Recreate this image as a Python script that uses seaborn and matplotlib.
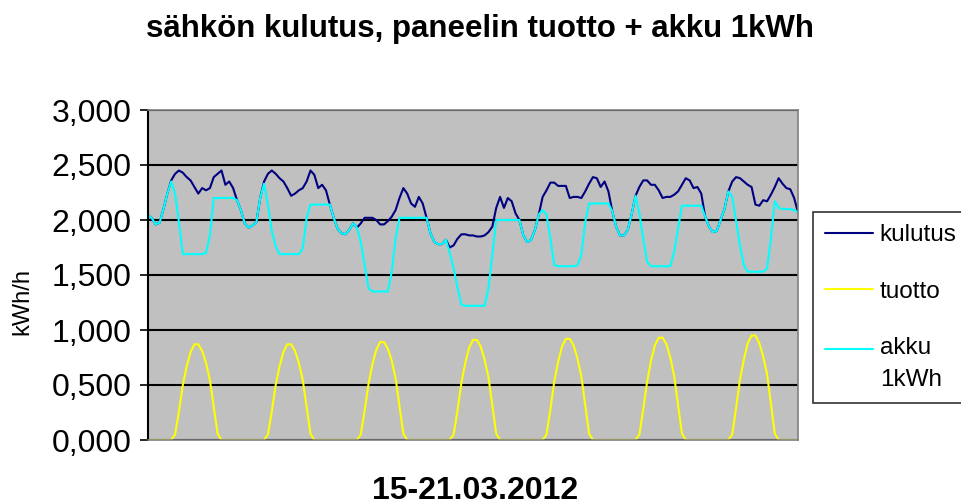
import numpy as np
import pandas as pd
import matplotlib
matplotlib.use("Agg")
import matplotlib.pyplot as plt
import seaborn as sns
from matplotlib.ticker import FuncFormatter, MultipleLocator
from matplotlib.lines import Line2D

# hourly values 15-21.03.2012 (hours 0..168)
kulutus = [
    2.045, 2.015, 1.96, 1.975, 2.10, 2.24, 2.36, 2.42, 2.45, 2.43, 2.39, 2.36,
    2.30, 2.24, 2.29, 2.27, 2.29, 2.39, 2.42, 2.45, 2.32, 2.35, 2.29, 2.18,
    2.09, 1.97, 1.93, 1.95, 1.98, 2.20, 2.35, 2.42, 2.45, 2.42, 2.38, 2.35,
    2.29, 2.22, 2.24, 2.27, 2.29, 2.35, 2.45, 2.41, 2.29, 2.32, 2.27, 2.14,
    2.02, 1.92, 1.88, 1.87, 1.91, 1.97, 1.93, 1.97, 2.02, 2.02, 2.02, 2.00,
    1.96, 1.96, 1.99, 2.03, 2.09, 2.20, 2.29, 2.24, 2.15, 2.12, 2.21, 2.15,
    2.02, 1.88, 1.80, 1.78, 1.78, 1.82, 1.75, 1.77, 1.83, 1.87, 1.87, 1.86,
    1.86, 1.85, 1.85, 1.86, 1.89, 1.94, 2.11, 2.21, 2.11, 2.20, 2.17, 2.06,
    2.00, 1.86, 1.80, 1.82, 1.91, 2.05, 2.21, 2.27, 2.34, 2.34, 2.31, 2.31,
    2.31, 2.20, 2.21, 2.21, 2.20, 2.26, 2.33, 2.39, 2.38, 2.30, 2.35, 2.26,
    2.08, 1.94, 1.86, 1.86, 1.91, 2.05, 2.22, 2.30, 2.36, 2.36, 2.32, 2.32,
    2.27, 2.20, 2.21, 2.21, 2.23, 2.26, 2.32, 2.38, 2.36, 2.29, 2.30, 2.24,
    2.03, 1.94, 1.89, 1.90, 2.00, 2.10, 2.26, 2.35, 2.39, 2.38, 2.35, 2.32,
    2.30, 2.14, 2.13, 2.18, 2.17, 2.23, 2.30, 2.38, 2.33, 2.29, 2.28, 2.20,
    2.07,
]

akku = [
    2.045, 2.015, 1.96, 1.975, 2.10, 2.24, 2.35, 2.24, 1.98, 1.69, 1.69, 1.69,
    1.69, 1.69, 1.69, 1.70, 1.86, 2.20, 2.20, 2.20, 2.20, 2.20, 2.20, 2.18,
    2.09, 1.97, 1.93, 1.95, 1.98, 2.20, 2.33, 2.14, 1.90, 1.76, 1.69, 1.69,
    1.69, 1.69, 1.69, 1.69, 1.74, 2.02, 2.14, 2.14, 2.14, 2.14, 2.14, 2.14,
    2.02, 1.92, 1.88, 1.87, 1.91, 1.97, 1.93, 1.80, 1.59, 1.38, 1.35, 1.35,
    1.35, 1.35, 1.35, 1.53, 1.83, 2.02, 2.02, 2.02, 2.02, 2.02, 2.02, 2.02,
    2.02, 1.88, 1.80, 1.78, 1.78, 1.82, 1.70, 1.56, 1.38, 1.23, 1.22, 1.22,
    1.22, 1.22, 1.22, 1.22, 1.38, 1.68, 2.00, 2.00, 2.00, 2.00, 2.00, 2.00,
    2.00, 1.86, 1.80, 1.82, 1.91, 2.05, 2.09, 2.05, 1.83, 1.59, 1.58, 1.58,
    1.58, 1.58, 1.58, 1.59, 1.68, 1.98, 2.15, 2.15, 2.15, 2.15, 2.15, 2.15,
    2.08, 1.94, 1.86, 1.86, 1.91, 2.05, 2.22, 2.06, 1.83, 1.62, 1.58, 1.58,
    1.58, 1.58, 1.58, 1.58, 1.71, 1.92, 2.13, 2.13, 2.13, 2.13, 2.13, 2.13,
    2.03, 1.94, 1.89, 1.90, 2.00, 2.10, 2.26, 2.21, 1.99, 1.77, 1.59, 1.53,
    1.53, 1.53, 1.53, 1.53, 1.56, 1.83, 2.17, 2.11, 2.10, 2.10, 2.10, 2.09,
    2.07,
]

tuotto = [
    # day 1
    0, 0, 0, 0, 0, 0, 0.0, 0.05, 0.26, 0.50, 0.67, 0.80,
    0.87, 0.87, 0.81, 0.70, 0.545, 0.30, 0.055, 0.0, 0, 0, 0, 0,
    # day 2
    0, 0, 0, 0, 0, 0, 0.0, 0.05, 0.26, 0.50, 0.67, 0.80,
    0.87, 0.87, 0.81, 0.70, 0.545, 0.30, 0.055, 0.0, 0, 0, 0, 0,
    # day 3
    0, 0, 0, 0, 0, 0, 0.0, 0.05, 0.27, 0.51, 0.69, 0.82,
    0.89, 0.89, 0.83, 0.72, 0.56, 0.31, 0.056, 0.0, 0, 0, 0, 0,
    # day 4
    0, 0, 0, 0, 0, 0, 0.0, 0.05, 0.27, 0.52, 0.70, 0.84,
    0.91, 0.91, 0.85, 0.73, 0.57, 0.31, 0.057, 0.0, 0, 0, 0, 0,
    # day 5
    0, 0, 0, 0, 0, 0, 0.0, 0.05, 0.28, 0.53, 0.71, 0.85,
    0.92, 0.92, 0.86, 0.74, 0.58, 0.32, 0.058, 0.0, 0, 0, 0, 0,
    # day 6
    0, 0, 0, 0, 0, 0, 0.0, 0.05, 0.28, 0.53, 0.72, 0.86,
    0.93, 0.93, 0.87, 0.75, 0.58, 0.32, 0.059, 0.0, 0, 0, 0, 0,
    # day 7
    0, 0, 0, 0, 0, 0, 0.0, 0.05, 0.29, 0.55, 0.73, 0.88,
    0.95, 0.95, 0.88, 0.76, 0.60, 0.33, 0.06, 0.0, 0, 0, 0, 0,
    0,
]

hours = list(range(len(kulutus)))

series_names = ["kulutus", "tuotto", "akku"]
legend_labels = ["kulutus", "tuotto", "akku\n1kWh"]
colors = {"kulutus": "#000080", "tuotto": "#FFFF00", "akku": "#00FFFF"}

df = pd.DataFrame({"hour": hours, "kulutus": kulutus, "tuotto": tuotto, "akku": akku})

sns.set_theme(style="white")
plt.rcParams["font.family"] = ["Liberation Sans", "DejaVu Sans"]
plt.rcParams["text.color"] = "black"
plt.rcParams["axes.labelcolor"] = "black"
plt.rcParams["ytick.color"] = "black"

fig = plt.figure(figsize=(9.61, 5.04), dpi=100)
ax = fig.add_axes([148 / 961, 1 - 440 / 504, 650 / 961, 330 / 504])
ax.set_facecolor("#C0C0C0")

for name in series_names:
    sns.lineplot(data=df, x="hour", y=name, ax=ax, color=colors[name],
                 linewidth=1.5, legend=False)

ax.set_xlim(0, hours[-1])
ax.set_ylim(0, 3)
ax.yaxis.set_major_locator(MultipleLocator(0.5))
ax.yaxis.set_major_formatter(FuncFormatter(lambda v, p: f"{v:.3f}".replace(".", ",")))
ax.grid(axis="y", color="black", linewidth=1.5)
ax.set_axisbelow(True)
ax.set_xticks([])
ax.tick_params(axis="y", which="major", direction="out", length=6, width=1.2,
               color="black", labelcolor="black", labelsize=23, pad=6, left=True)

for s in ["top", "right", "bottom"]:
    ax.spines[s].set_color("#808080")
    ax.spines[s].set_linewidth(1.2)
ax.spines["left"].set_color("black")
ax.spines["left"].set_linewidth(1.5)

ax.set_ylabel("kWh/h", fontsize=17, color="black")
ax.yaxis.set_label_coords(-0.176, 0.42)
ax.set_xlabel("")
fig.text(0.494, 0.026, "15-21.03.2012", ha="center", va="center",
         fontsize=23, fontweight="bold", color="black")
fig.text(0.50, 0.942, "sähkön kulutus, paneelin tuotto + akku 1kWh", ha="center",
         va="center", fontsize=22.5, fontweight="bold", color="black")

handles = [Line2D([0], [0], color=colors[n], linewidth=1.5) for n in series_names]
leg = fig.legend(handles, legend_labels, loc="upper left",
                 bbox_to_anchor=(813 / 961, 1 - 212 / 504), frameon=True,
                 fontsize=17.5, handlelength=1.95, labelspacing=1.42,
                 borderpad=0.5, borderaxespad=0.0, handletextpad=0.3,
                 fancybox=False)
leg.get_frame().set_edgecolor("black")
leg.get_frame().set_linewidth(1.2)
for t in leg.get_texts():
    t.set_linespacing(1.55)
    t.set_color("black")
# align the akku handle with the first text line, as in the original
try:
    h = leg.legend_handles[2]
    h.set_ydata(np.asarray(h.get_ydata(), dtype=float) + 11.0)
except Exception:
    pass

fig.savefig("out.png", dpi=100, facecolor="white")
